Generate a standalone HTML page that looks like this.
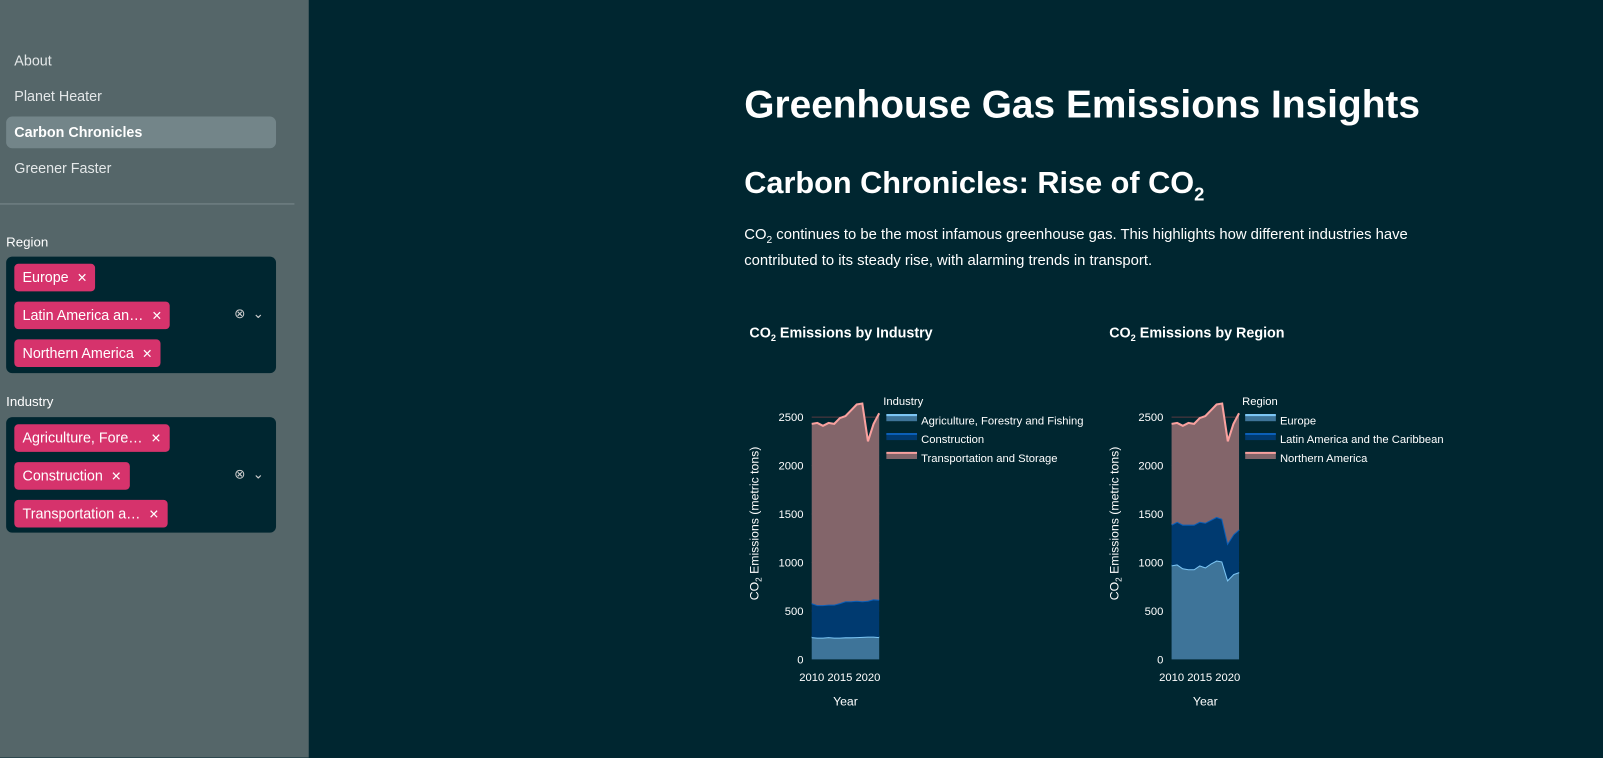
<!DOCTYPE html>
<html><head><meta charset="utf-8">
<style>
body{margin:0;width:1603px;height:741px;background:#002630;font-family:"Liberation Sans",sans-serif;overflow:hidden;position:relative;color:#fff}
#wrap{position:absolute;left:0;top:0;width:1568px;height:725px;transform:scale(1.02232);transform-origin:0 0}
#sidebar{position:absolute;left:0;top:0;width:302px;height:741px;background:#556669}
sub{line-height:0}
.nav{position:absolute;left:6px;width:264px;height:31px;line-height:31px;padding-left:8px;box-sizing:border-box;font-size:14px;color:#e4e8e9;border-radius:6px}
.nav.active{background:#738589;font-weight:bold;color:#fff}
.lbl{position:absolute;left:6px;font-size:13px;color:#fff}
.ms{position:absolute;left:6px;width:264px;background:#002630;border-radius:6px}
.tag{position:absolute;left:8px;height:27px;line-height:27px;background:#d6336c;border-radius:4px;padding:0 8px;font-size:14px;color:#fff;white-space:nowrap}
.tag span{margin-left:8px;font-size:12px}
.ctl{position:absolute;right:12px;font-size:13px;color:#ccc}
h1{position:absolute;left:728px;top:82px;margin:0;font-size:38px;font-weight:bold}
h2{position:absolute;left:728px;top:163px;margin:0;font-size:30px;font-weight:bold}
p{position:absolute;left:728px;top:218px;margin:0;font-size:14.5px;line-height:25px;width:680px}
.ct{position:absolute;top:317px;font-size:14px;font-weight:bold}
</style></head><body>
<div id="wrap">
<div id="sidebar">
<div class="nav" style="top:44px">About</div>
<div class="nav" style="top:79px">Planet Heater</div>
<div class="nav active" style="top:114px">Carbon Chronicles</div>
<div class="nav" style="top:149px">Greener Faster</div>
<div style="position:absolute;left:0;top:199px;width:288px;height:1px;background:#7a8a8d"></div>
<div class="lbl" style="top:229px">Region</div>
<div class="ms" style="top:251px;height:114px">
<div class="tag" style="top:7px">Europe<span>✕</span></div>
<div class="tag" style="top:44px">Latin America an…<span>✕</span></div>
<div class="tag" style="top:81px">Northern America<span>✕</span></div>
<div class="ctl" style="top:48px">⊗ &nbsp;⌄</div>
</div>
<div class="lbl" style="top:385px">Industry</div>
<div class="ms" style="top:408px;height:113px">
<div class="tag" style="top:7px">Agriculture, Fore…<span>✕</span></div>
<div class="tag" style="top:44px">Construction<span>✕</span></div>
<div class="tag" style="top:81px">Transportation a…<span>✕</span></div>
<div class="ctl" style="top:48px">⊗ &nbsp;⌄</div>
</div>
</div>
<h1>Greenhouse Gas Emissions Insights</h1>
<h2>Carbon Chronicles: Rise of CO<sub style="font-size:18px">2</sub></h2>
<p>CO<sub style="font-size:10px">2</sub> continues to be the most infamous greenhouse gas. This highlights how different industries have contributed to its steady rise, with alarming trends in transport.</p>
<div class="ct" style="left:733px">CO<sub style="font-size:9px">2</sub> Emissions by Industry</div>
<div class="ct" style="left:1085px">CO<sub style="font-size:9px">2</sub> Emissions by Region</div>
<svg id="svg" width="1568" height="725" style="position:absolute;left:0;top:0"></svg>
</div>
<script>
const years=[2010,2011,2012,2013,2014,2015,2016,2017,2018,2019,2020,2021,2022];
const agriculture=[230,225,225,230,225,225,228,228,230,232,235,235,230];
const construction=[350,335,335,335,340,355,372,372,375,368,370,385,385];
const transport=[1850,1880,1850,1875,1865,1910,1910,1970,2025,2040,1645,1810,1925];
const europe=[970,980,940,930,930,970,950,990,1020,1010,820,880,900];
const latinAmerica=[420,440,450,460,460,450,460,450,450,440,380,410,440];
const northernAmerica=[1040,1020,1020,1050,1040,1070,1100,1130,1160,1190,1050,1140,1200];
const yTicks=[0,500,1000,1500,2000,2500];
const xTicks=[2010,2015,2020];
const svg=document.getElementById('svg');
const NS='http://www.w3.org/2000/svg';
function mk(t,a,p){const e=document.createElementNS(NS,t);for(const k in a)e.setAttribute(k,a[k]);(p||svg).appendChild(e);return e;}
const colors=[['#3e7499','#7cc6f5'],['#003a70','#0b5fb8'],['#83656a','#f9a19f']];
function chart(x0,x1,series,names,legendTitle,lx,key){
  const y=v=>645-v*(237/2500);
  const x=yr=>x0+(yr-2010)*(x1-x0)/12;
  const g=mk('g',{});
  
  
  yTicks.forEach(t=>{
    if(t>0){mk('line',{x1:x0,x2:x1,y1:y(t),y2:y(t),stroke:'#5a3a40','stroke-width':1},g);}
    const tx=mk('text',{x:x0-8,y:y(t)+4,'text-anchor':'end','font-size':11,fill:'#fff','font-family':'Liberation Sans'},g);tx.textContent=t;
    
    
  });
  xTicks.forEach(t=>{const tx=mk('text',{x:x(t),y:666,'text-anchor':'middle','font-size':11,fill:'#fff','font-family':'Liberation Sans'},g);tx.textContent=t;
    
    });
  let base=years.map(()=>0);
  series.forEach((s,i)=>{
    const top=base.map((b,j)=>b+s[j]);
    let d='M'+years.map((yr,j)=>x(yr)+','+y(top[j])).join('L');
    d+='L'+years.slice().reverse().map((yr,j)=>x(yr)+','+y(base[12-j])).join('L')+'Z';
    const a=mk('path',{d:d,fill:colors[i][0]},g);
    
    
    const ln=mk('path',{d:'M'+years.map((yr,j)=>x(yr)+','+y(top[j])).join('L'),fill:'none',stroke:colors[i][1],'stroke-width':2},g);
    
    
    base=top;
    mk('rect',{x:lx,y:408+i*18.5-2,width:30,height:6,fill:colors[i][0]},g);
    mk('line',{x1:lx,x2:lx+30,y1:408+i*18.5-2,y2:408+i*18.5-2,stroke:colors[i][1],'stroke-width':2},g);
    const lt=mk('text',{x:lx+34,y:415+i*18.5,'font-size':11,fill:'#fff','font-family':'Liberation Sans'},g);lt.textContent=names[i];
    
    
  });
  const lt=mk('text',{x:lx-3,y:396,'font-size':11,fill:'#fff','font-family':'Liberation Sans'},g);lt.textContent=legendTitle;
  
  
  const xt=mk('text',{x:(x0+x1)/2,y:690,'text-anchor':'middle','font-size':12,fill:'#fff','font-family':'Liberation Sans'},g);xt.textContent='Year';
  
  
  const yt=mk('text',{transform:'translate('+(x0-52)+',512) rotate(-90)','text-anchor':'middle','font-size':12,fill:'#fff','font-family':'Liberation Sans'},g);
  yt.innerHTML='CO<tspan font-size="8" dy="3">2</tspan><tspan dy="-3"> Emissions (metric tons)</tspan>';
  
  
}
chart(794,860,[agriculture,construction,transport],['Agriculture, Forestry and Fishing','Construction','Transportation and Storage'],'Industry',867,'industry-chart');
chart(1146,1212,[europe,latinAmerica,northernAmerica],['Europe','Latin America and the Caribbean','Northern America'],'Region',1218,'region-chart');
</script>
</body></html>
